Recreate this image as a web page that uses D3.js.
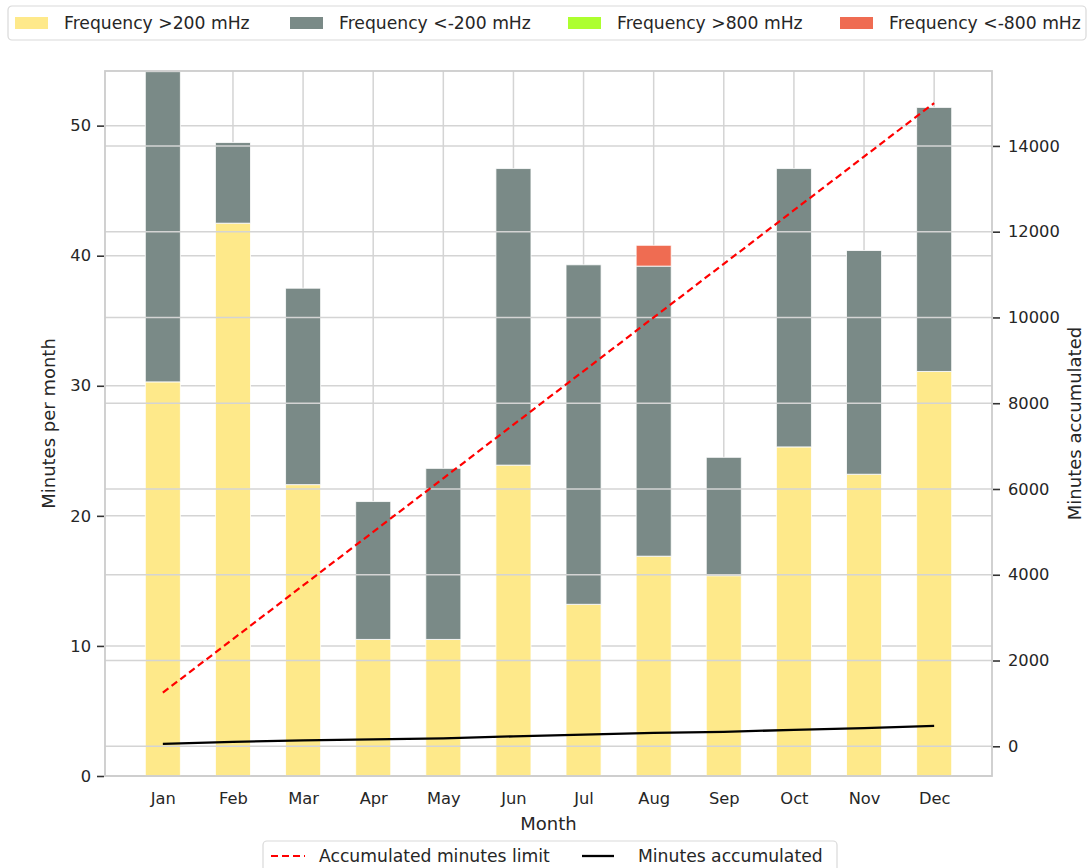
<!DOCTYPE html>
<html>
<head>
<meta charset="utf-8">
<script src="https://cdn.jsdelivr.net/npm/d3@7"></script>
<style>
  body { margin: 0; background: #fff; }
  svg { font-family: "DejaVu Sans", sans-serif; }
</style>
</head>
<body>
<svg id="chart" width="1088" height="868"></svg>
<script>
const months = ["Jan", "Feb", "Mar", "Apr", "May", "Jun", "Jul", "Aug", "Sep", "Oct", "Nov", "Dec"];
const above200 = [30.3, 42.5, 22.4, 10.5, 10.5, 23.9, 13.2, 16.9, 15.4, 25.3, 23.2, 31.1];
const below200 = [23.85, 6.2, 15.1, 10.6, 13.15, 22.8, 26.1, 22.3, 9.1, 21.4, 17.2, 20.3];
const above800 = [0, 0, 0, 0, 0, 0, 0, 0, 0, 0, 0, 0];
const below800 = [0, 0, 0, 0, 0, 0, 0, 1.6, 0, 0, 0, 0];
const minutesLimit = [1250, 2500, 3750, 5000, 6250, 7500, 8750, 10000, 11250, 12500, 13750, 15000];
const minutesAccumulated = [54, 103, 140, 161, 185, 232, 271, 312, 336, 383, 424, 475];

const leftTicks = [0, 10, 20, 30, 40, 50];
const rightTicks = [0, 2000, 4000, 6000, 8000, 10000, 12000, 14000];

const seriesKeys = ["above200", "below200", "above800", "below800"];
const seriesNames = ["Frequency >200 mHz", "Frequency <-200 mHz", "Frequency >800 mHz", "Frequency <-800 mHz"];
const seriesColors = ["#fee98a", "#7a8a87", "#adff2f", "#ef6c52"];

const svg = d3.select("#chart");
const plot = { left: 105, right: 992, top: 71, bottom: 776 };
const gridColor = "#d4d4d4";
const textColor = "#262626";

const rows = months.map((m, i) => ({
    month: m, idx: i,
    above200: above200[i], below200: below200[i], above800: above800[i], below800: below800[i]
}));

const x = d3.scaleLinear().domain([-0.825, 11.825]).range([plot.left, plot.right]);
const yLeft = d3.scaleLinear().domain([0, 54.2]).range([plot.bottom, plot.top]);
const yRight = d3.scaleLinear().domain([-693, 15747]).range([plot.bottom, plot.top]);
const barW = x(0.25) - x(-0.25);

// left axis grid (behind bars)
const gridBack = svg.append("g");
gridBack.selectAll("line.h").data(leftTicks).enter().append("line")
    .attr("x1", plot.left).attr("x2", plot.right)
    .attr("y1", d => yLeft(d)).attr("y2", d => yLeft(d))
    .attr("stroke", gridColor).attr("stroke-width", 1.5);
gridBack.selectAll("line.v").data(months).enter().append("line")
    .attr("x1", (d, i) => x(i)).attr("x2", (d, i) => x(i))
    .attr("y1", plot.top).attr("y2", plot.bottom)
    .attr("stroke", gridColor).attr("stroke-width", 1.5);

// stacked bars
const stacked = d3.stack().keys(seriesKeys)(rows);
svg.append("g").selectAll("g").data(stacked).enter().append("g")
    .attr("fill", (d, i) => seriesColors[i])
    .selectAll("rect").data(d => d.filter(s => s[1] - s[0] > 0)).enter().append("rect")
    .attr("x", d => x(d.data.idx) - barW / 2)
    .attr("width", barW)
    .attr("y", d => yLeft(d[1]))
    .attr("height", d => yLeft(d[0]) - yLeft(d[1]))
    .attr("stroke", "#ffffff").attr("stroke-width", 1).attr("stroke-opacity", 0.8);

// right axis grid (drawn over the bars)
svg.append("g").selectAll("line").data(rightTicks).enter().append("line")
    .attr("x1", plot.left).attr("x2", plot.right)
    .attr("y1", d => yRight(d)).attr("y2", d => yRight(d))
    .attr("stroke", gridColor).attr("stroke-width", 1.5);

// lines on the right axis
const lineGen = d3.line().x((d, i) => x(i)).y(d => yRight(d));
svg.append("path").datum(minutesLimit).attr("d", lineGen)
    .attr("fill", "none").attr("stroke", "#ff0000").attr("stroke-width", 2.2)
    .attr("stroke-dasharray", "7,4");
svg.append("path").datum(minutesAccumulated).attr("d", lineGen)
    .attr("fill", "none").attr("stroke", "#000000").attr("stroke-width", 2.3);

// frame
svg.append("rect").attr("x", plot.left).attr("y", plot.top)
    .attr("width", plot.right - plot.left).attr("height", plot.bottom - plot.top)
    .attr("fill", "none").attr("stroke", "#cccccc").attr("stroke-width", 1.8);

// axes
const gl = svg.append("g").attr("transform", `translate(${plot.left - 1},0)`)
    .call(d3.axisLeft(yLeft).tickValues(leftTicks).tickSize(7).tickPadding(6));
const gr = svg.append("g").attr("transform", `translate(${plot.right + 1},0)`)
    .call(d3.axisRight(yRight).tickValues(rightTicks).tickFormat(d3.format("d")).tickSize(7).tickPadding(8));
const gb = svg.append("g").attr("transform", `translate(0,${plot.bottom})`)
    .call(d3.axisBottom(x).tickValues(d3.range(months.length)).tickFormat(i => months[i]).tickSize(0).tickPadding(16));
[gl, gr, gb].forEach(g => {
    g.select(".domain").remove();
    g.selectAll(".tick line").attr("stroke", "#333333").attr("stroke-width", 1.6);
    g.selectAll(".tick text").attr("fill", textColor).style("font-size", "16.3px")
        .style("font-family", "DejaVu Sans, sans-serif");
});

// axis labels
svg.append("text").attr("x", (plot.left + plot.right) / 2).attr("y", 830)
    .attr("text-anchor", "middle").attr("fill", textColor).style("font-size", "18px").text("Month");
svg.append("text").attr("transform", `translate(55,${(plot.top + plot.bottom) / 2}) rotate(-90)`)
    .attr("text-anchor", "middle").attr("fill", textColor).style("font-size", "18px").text("Minutes per month");
svg.append("text").attr("transform", `translate(1081,${(plot.top + plot.bottom) / 2}) rotate(-90)`)
    .attr("text-anchor", "middle").attr("fill", textColor).style("font-size", "18px").text("Minutes accumulated");

// top legend
const topLeg = svg.append("g");
topLeg.append("rect").attr("x", 8).attr("y", 6).attr("width", 1078).attr("height", 34).attr("rx", 4)
    .attr("fill", "#fff").attr("stroke", "#d9d9d9").attr("stroke-width", 1.2);
const legX = [15, 290, 568, 840];
seriesNames.forEach((name, i) => {
    topLeg.append("rect").attr("x", legX[i]).attr("y", 17).attr("width", 33).attr("height", 12)
        .attr("fill", seriesColors[i]);
    topLeg.append("text").attr("x", legX[i] + 49).attr("y", 29).attr("fill", textColor)
        .style("font-size", "17.2px").text(name);
});

// bottom legend
const botLeg = svg.append("g");
botLeg.append("rect").attr("x", 263).attr("y", 841).attr("width", 574).attr("height", 40).attr("rx", 4)
    .attr("fill", "#fff").attr("stroke", "#d9d9d9").attr("stroke-width", 1.2);
botLeg.append("line").attr("x1", 271).attr("x2", 305).attr("y1", 856).attr("y2", 856)
    .attr("stroke", "#ff0000").attr("stroke-width", 2.2).attr("stroke-dasharray", "7,4");
botLeg.append("text").attr("x", 319).attr("y", 862).attr("fill", textColor)
    .style("font-size", "17.2px").text("Accumulated minutes limit");
botLeg.append("line").attr("x1", 582).attr("x2", 614).attr("y1", 856).attr("y2", 856)
    .attr("stroke", "#000").attr("stroke-width", 2.3);
botLeg.append("text").attr("x", 638).attr("y", 862).attr("fill", textColor)
    .style("font-size", "17.2px").text("Minutes accumulated");
</script>
</body>
</html>
